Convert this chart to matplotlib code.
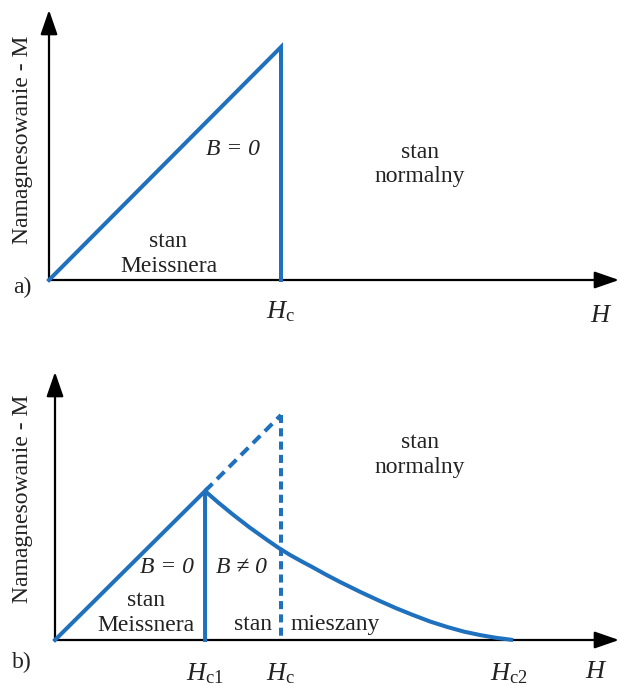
import matplotlib
matplotlib.use("Agg")
import matplotlib.pyplot as plt

plt.rcParams['font.family'] = ['Liberation Serif', 'DejaVu Serif']
plt.rcParams['mathtext.fontset'] = 'custom'
plt.rcParams['mathtext.rm'] = 'Liberation Serif'
plt.rcParams['mathtext.it'] = 'Liberation Serif:italic'

NIEBIESKI = '#1f70bd'
TEKST = '#222222'
FS = 17
FS_H = 19

# a) nadprzewodnik I rodzaju (H w jednostkach Hc, M w jednostkach M(Hc))
H_a = [0.0, 1.0, 1.0]
M_a = [0.0, 1.0, 0.0]

# b) nadprzewodnik II rodzaju
Hc1 = 0.664
Mc1 = 0.662
Hc = 1.0
Mc = 1.0
Hc2 = 2.027
H_mieszany = [0.664, 0.72, 0.788, 0.86, 0.938, 0.99, 1.040, 1.09, 1.137, 1.20,
              1.261, 1.35, 1.438, 1.51, 1.584, 1.66, 1.735, 1.81, 1.881, 1.95, 2.027]
M_mieszany = [0.662, 0.613, 0.557, 0.501, 0.445, 0.409, 0.378, 0.350, 0.325, 0.290,
              0.258, 0.214, 0.173, 0.141, 0.111, 0.082, 0.058, 0.037, 0.022, 0.010, 0.0]

fig = plt.figure(figsize=(6.19, 6.85), dpi=100)


def osie(rect, xmax, ymax):
    ax = fig.add_axes(rect)
    ax.set_xlim(0, xmax)
    ax.set_ylim(0, ymax)
    ax.axis('off')
    strz = dict(arrowstyle='-|>,head_length=0.75,head_width=0.26', lw=1.6,
                color='black', shrinkA=0, shrinkB=0, mutation_scale=20)
    ax.annotate('', xy=(1, 0), xytext=(0, 0), xycoords='axes fraction', arrowprops=strz)
    ax.annotate('', xy=(0, 1), xytext=(0, 0), xycoords='axes fraction', arrowprops=strz)
    return ax


def napis(ax, x, y, s, fs=FS, **kw):
    ax.text(x, y, s, fontsize=fs, color=TEKST, ha='center', va='center',
            clip_on=False, **kw)


# ---------------- a) ----------------
W, H = 619, 685
ax = osie([49 / W, 405 / H, 570 / W, 270 / H], 570 / 232, 270 / 233)
ax.plot(H_a, M_a, color=NIEBIESKI, lw=2.9, clip_on=False, zorder=3,
        solid_joinstyle='miter')
napis(ax, 0.793, 0.558, 'B = 0', style='italic')
napis(ax, 0.515, 0.112, 'stan\nMeissnera', linespacing=1.2)
napis(ax, 1.599, 0.494, 'stan\nnormalny', linespacing=1.2)
napis(ax, Hc, -0.137, r'$H_{\mathrm{c}}$', fs=FS_H)
napis(ax, 2.379, -0.155, r'$H$', fs=FS_H)
napis(ax, -0.116, -0.034, 'a)')
napis(ax, -0.116, 0.601, 'Namagnesowanie - M', rotation=90)

# ---------------- b) ----------------
bx = osie([55 / W, 45 / H, 564 / W, 268 / H], 564 / 226, 268 / 225)
bx.plot([0, Hc1, Hc1], [0, Mc1, 0], color=NIEBIESKI, lw=2.9, clip_on=False,
        zorder=3, solid_joinstyle='miter')
bx.plot([Hc1, Hc], [Mc1, Mc], color=NIEBIESKI, lw=2.9, clip_on=False,
        linestyle=(0, (2.6, 1.6)))
bx.plot([Hc, Hc], [Mc, 0], color=NIEBIESKI, lw=2.9, clip_on=False,
        linestyle=(0, (2.0, 1.3)))
bx.plot(H_mieszany, M_mieszany, color=NIEBIESKI, lw=2.9, clip_on=False,
        zorder=3, solid_capstyle='butt', solid_joinstyle='round')
napis(bx, 0.496, 0.324, 'B = 0', style='italic')
napis(bx, 0.827, 0.324, 'B ≠ 0', style='italic')
napis(bx, 0.403, 0.12, 'stan\nMeissnera', linespacing=1.2)
napis(bx, 0.876, 0.071, 'stan')
napis(bx, 1.239, 0.067, 'mieszany')
napis(bx, 1.615, 0.822, 'stan\nnormalny', linespacing=1.2)
napis(bx, Hc1, -0.15, r'$H_{\mathrm{c1}}$', fs=FS_H)
napis(bx, Hc, -0.15, r'$H_{\mathrm{c}}$', fs=FS_H)
napis(bx, Hc2 - 0.02, -0.15, r'$H_{\mathrm{c2}}$', fs=FS_H)
napis(bx, 2.394, -0.142, r'$H$', fs=FS_H)
napis(bx, -0.146, -0.098, 'b)')
napis(bx, -0.146, 0.627, 'Namagnesowanie - M', rotation=90)

fig.savefig('out.png', dpi=100)
